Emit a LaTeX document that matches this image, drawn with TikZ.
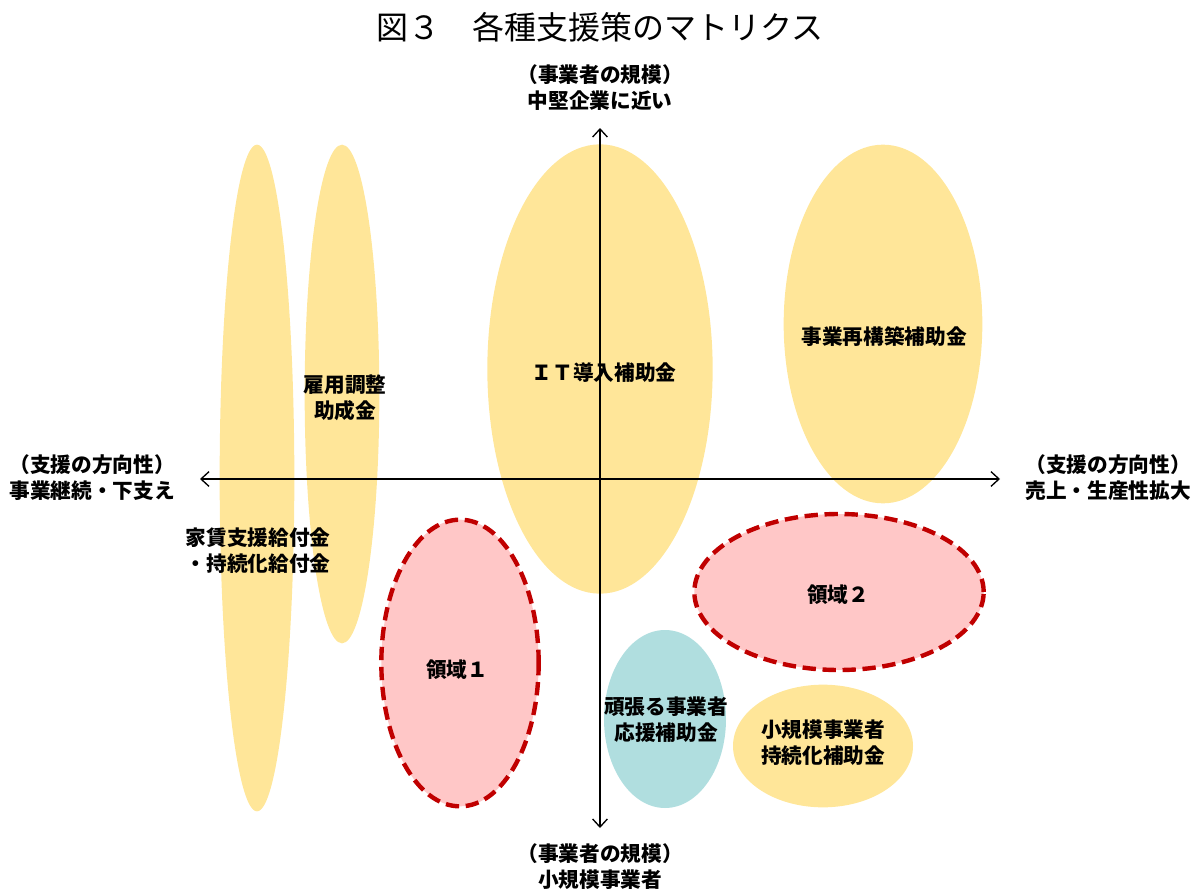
\documentclass[tikz,border=0pt]{standalone}
\usepackage{fontspec}
\setmainfont{Noto Sans CJK JP}
\definecolor{softgold}{HTML}{FFE699}
\definecolor{softpink}{HTML}{FFC7C7}
\definecolor{deepred}{HTML}{C00000}
\definecolor{paleteal}{HTML}{B0DEDF}
\usetikzlibrary{shapes.geometric, arrows.meta, positioning, calc}
\tikzset{
  blob/.style={ellipse, fill=#1, draw=none, inner sep=0pt},
  areablob/.style={ellipse, fill=softpink, draw=deepred, line width=3.3pt, dash pattern=on 10pt off 5pt, inner sep=0pt},
  lbl/.style={font=\bfseries\fontsize{15.5}{19.5}\selectfont, align=center, inner sep=0pt},
  axisline/.style={line width=1pt, {Straight Barb[length=6pt,width=11pt]}-{Straight Barb[length=6pt,width=11pt]}},
}
\begin{document}
\begin{tikzpicture}[x=0.75pt, y=-0.75pt]
\useasboundingbox (0,0) rectangle (1196,892);
% title
\node[font=\fontsize{24}{28}\selectfont, inner sep=0pt] (title) at (600,27) {図３　各種支援策のマトリクス};
% support measures
\node[blob=softgold, minimum width=56pt, minimum height=500pt] (yachin) at (257,478) {};
\node[blob=softgold, minimum width=56pt, minimum height=374pt] (koyou) at (342,394) {};
\node[blob=softgold, minimum width=169pt, minimum height=337pt] (itdonyu) at (600,369) {};
\node[blob=softgold, minimum width=149pt, minimum height=269pt] (saikouchiku) at (883,324) {};
\node[areablob, minimum width=118pt, minimum height=215pt] (ryoiki1) at (460,663) {};
\node[areablob, minimum width=217pt, minimum height=117pt] (ryoiki2) at (839,592) {};
\node[blob=paleteal, minimum width=91.5pt, minimum height=133.5pt] (ganbaru) at (665,719) {};
\node[blob=softgold, minimum width=135pt, minimum height=92pt] (shokibo) at (823,746) {};
% axes
\coordinate (xleft) at (200,479);
\coordinate (xright) at (1000,479);
\coordinate (ytop) at (600,128);
\coordinate (ybottom) at (600,828);
\draw[axisline] (xleft) -- (xright);
\draw[axisline] (ytop) -- (ybottom);
\node[lbl] (toplbl) at (600,88) {（事業者の規模）\\中堅企業に近い};
\node[lbl] (bottomlbl) at (600,867) {（事業者の規模）\\小規模事業者};
\node[lbl] (leftlbl) at (92,478) {（支援の方向性）\\事業継続・下支え};
\node[lbl] (rightlbl) at (1108,478) {（支援の方向性）\\売上・生産性拡大};
% labels
\node[lbl] (yachinlbl) at (258,551) {家賃支援給付金\\・持続化給付金};
\node[lbl] (koyoulbl) at (345,398) {雇用調整\\助成金};
\node[lbl] (itlbl) at (604,373) {ＩＴ導入補助金};
\node[lbl] (saikouchikulbl) at (884,337) {事業再構築補助金};
\node[lbl] (ryoiki1lbl) at (457,670) {領域１};
\node[lbl] (ryoiki2lbl) at (838,595) {領域２};
\node[lbl] (ganbarulbl) at (666,720) {頑張る事業者\\応援補助金};
\node[lbl] (shokibolbl) at (823,743) {小規模事業者\\持続化補助金};
\end{tikzpicture}
\end{document}
